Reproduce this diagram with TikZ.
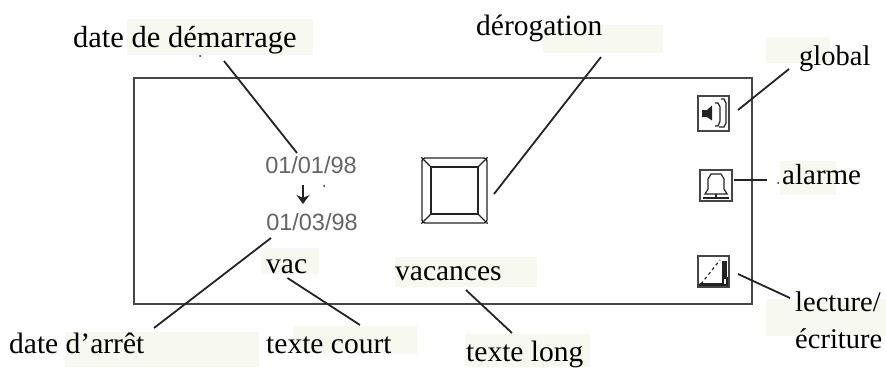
\documentclass[tikz,border=0pt]{standalone}
\usepackage{fontspec}
\setmainfont{Liberation Serif}
\newfontfamily\datefont{Liberation Sans}
\usepackage{tikz}
\usetikzlibrary{arrows.meta, positioning}
\definecolor{palecolor}{RGB}{247, 248, 240}
\definecolor{boxborder}{RGB}{70, 70, 70}
\definecolor{datecolor}{RGB}{100, 100, 100}
\definecolor{linecolor}{RGB}{35, 35, 35}
\tikzstyle{pale} = [fill=palecolor, draw=none]
\tikzstyle{label} = [anchor=base west, inner sep=0pt, font=\fontsize{29.5}{32}\selectfont, text=black]
\tikzstyle{datetext} = [inner sep=0pt, font=\datefont\fontsize{23.5}{25}\selectfont, text=datecolor]
\tikzstyle{pointer} = [draw=linecolor, line width=1.8pt]
\tikzstyle{iconbox} = [draw=boxborder, line width=1.6pt]
\tikzstyle{icon} = [draw=linecolor, line width=1.2pt]

\begin{document}
\begin{tikzpicture}[x=1pt, y=-1pt]
    \useasboundingbox (0,0) rectangle (886,367);
    % pale patches behind the texts
    \fill[pale] (127,19) rectangle (313,55);
    \fill[pale] (543,25) rectangle (663,53);
    \fill[pale] (766,37) rectangle (830,63);
    \fill[pale] (780,161) rectangle (836,195);
    \fill[pale] (766,299) rectangle (886,336);
    \fill[pale] (65,332) rectangle (259,367);
    \fill[pale] (261,248) rectangle (319,274);
    \fill[pale] (293,326) rectangle (417,354);
    \fill[pale] (395,257) rectangle (537,287);
    \fill[pale] (465,334) rectangle (590,367);
    % panel
    \node[draw=boxborder, line width=1.8pt, inner sep=0pt, minimum width=618pt, minimum height=226pt] (panel) at (443,191) {};
    % dates
    \node[datetext] (startdate) at (311,165) {01/01/98};
    \node[datetext] (enddate) at (312,222) {01/03/98};
    \coordinate (arrowtop) at (303,185);
    \coordinate (arrowtip) at (303,204);
    \draw[linecolor, line width=1.8pt, -{Stealth[length=9pt, width=13pt]}] (arrowtop) -- (arrowtip);
    \fill[linecolor] (324,186) circle (1pt);
    % button
    \node[draw=linecolor, line width=1.4pt, rounded corners=3pt, minimum width=65pt, minimum height=65pt, inner sep=0pt] (button) at (454.5,190.5) {};
    \node[draw=linecolor, line width=1.4pt, minimum width=47pt, minimum height=47pt, inner sep=0pt] (buttonface) at (454.5,190.5) {};
    \draw[icon, line width=1.4pt] (button.north west) -- (buttonface.north west);
    \draw[icon, line width=1.4pt] (button.north east) -- (buttonface.north east);
    \draw[icon, line width=1.4pt] (button.south west) -- (buttonface.south west);
    \draw[icon, line width=1.4pt] (button.south east) -- (buttonface.south east);
    % icons
    \node[iconbox, minimum width=31pt, minimum height=35pt, inner sep=0pt] (speaker) at (713.5,113.5) {};
    \fill[linecolor] (702,110) -- (707,110) -- (712,105.5) -- (712,120.5) -- (707,117) -- (702,117) -- cycle;
    \draw[icon] (715,103) -- (718,103) -- (720,107) -- (720,121) -- (718,126) -- (715,126);
    \draw[icon] (721,99) -- (724,99) -- (726,103) -- (726,123) -- (724,127) -- (719,127);
    \node[iconbox, minimum width=32pt, minimum height=31pt, inner sep=0pt] (bell) at (716,185.5) {};
    \draw[icon] (705,194) -- (708,189) -- (708,179) -- (711,174) -- (721,174) -- (724,179) -- (724,189) -- (727,194) -- cycle;
    \draw[icon] (716,194) -- (716,198);
    \draw[icon] (703,198) -- (729,198);
    \node[iconbox, minimum width=31pt, minimum height=31pt, inner sep=0pt] (rwicon) at (713.5,271.5) {};
    \draw[icon, dashed] (701,284) -- (720,260);
    \fill[linecolor] (700,283) -- (722,283) -- (722,286) -- (698,286) -- cycle;
    \fill[linecolor] (722,261) rectangle (727,278);
    \draw[icon] (723,278) rectangle (727,285);
    % labels
    \node[label, font=\fontsize{30.5}{32}\selectfont] (demarrage) at (73,47) {date de démarrage};
    \node[label] (derogation) at (476,35) {dérogation};
    \node[label, font=\fontsize{28.5}{32}\selectfont] (global) at (799,65) {global};
    \node[label, font=\fontsize{29}{32}\selectfont] (alarme) at (782,184) {alarme};
    \node[label, font=\fontsize{28.5}{32}\selectfont] (lecture) at (795,311) {lecture/};
    \node[label, font=\fontsize{28.5}{32}\selectfont] (ecriture) at (795,348) {écriture};
    \node[label] (arret) at (9,353) {date d’arrêt};
    \node[label] (vac) at (266,273) {vac};
    \node[label] (court) at (266,353) {texte court};
    \node[label] (vacances) at (395,280) {vacances};
    \node[label] (long) at (466,361) {texte long};
    \fill[linecolor] (200,56) circle (1pt);
    \fill[linecolor] (778,183) circle (1pt);
    % free ends of the pointers
    \coordinate (demarrageend) at (224,61);
    \coordinate (startend) at (297,153);
    \coordinate (derogationend) at (601,57);
    \coordinate (buttonend) at (494,194);
    \coordinate (globalend) at (789,69);
    \coordinate (speakerend) at (738,110);
    \coordinate (alarmeend) at (767,180);
    \coordinate (bellend) at (734,180);
    \coordinate (lectureend) at (790,298);
    \coordinate (rwend) at (738,274);
    \coordinate (arretend) at (154,328);
    \coordinate (stopend) at (271,238);
    \coordinate (courtend) at (360,325);
    \coordinate (vacend) at (287.5,278);
    \coordinate (longend) at (512,333);
    \coordinate (vacancesend) at (466,290);
    % pointers
    \draw[pointer] (demarrageend) -- (startend);
    \draw[pointer] (derogationend) -- (buttonend);
    \draw[pointer] (globalend) -- (speakerend);
    \draw[pointer] (alarmeend) -- (bellend);
    \draw[pointer] (lectureend) -- (rwend);
    \draw[pointer] (arretend) -- (stopend);
    \draw[pointer] (courtend) -- (vacend);
    \draw[pointer] (longend) -- (vacancesend);
\end{tikzpicture}
\end{document}
